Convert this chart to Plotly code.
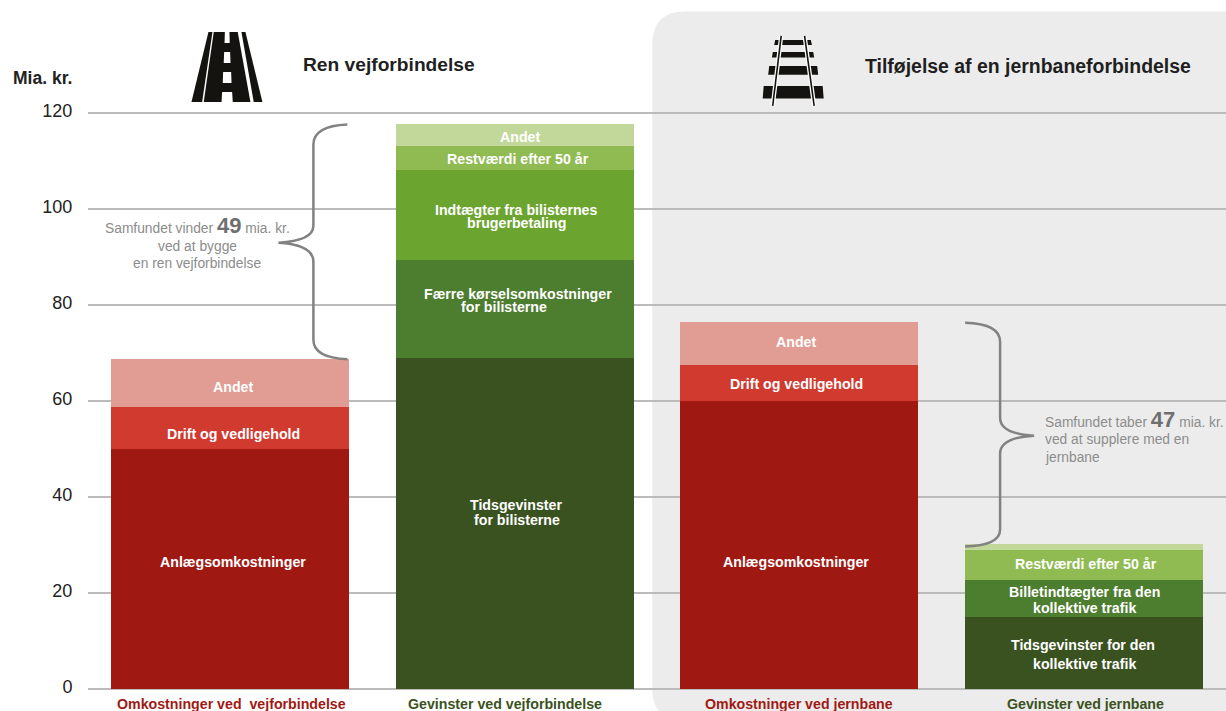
import plotly.graph_objects as go

# Bars, left to right
bars = ["Omkostninger ved  vejforbindelse", "Gevinster ved vejforbindelse",
        "Omkostninger ved jernbane", "Gevinster ved jernbane"]
bar_label_colors = ["#9f1a14", "#3a5220", "#9f1a14", "#3a5220"]

# Values in mia. kr. per stack segment
anlaeg = [50, None, 60, None]
drift = [8.8, None, 7.5, None]
andet_omk = [10, None, 9, None]
tid = [None, 69, None, 14.9]
koersel_billet = [None, 20.4, None, 7.9]
brugerbetaling = [None, 18.7, None, None]
restvaerdi = [None, 5, None, 6.2]
andet_gev = [None, 4.6, None, 1.3]

y_ticks = [0, 20, 40, 60, 80, 100, 120]

W, H = 1226, 711
LEFT, TOP, BOTTOM = 87.5, 111.1, 21.5
PLOT_W = W - LEFT
PLOT_H = H - TOP - BOTTOM


# the artwork was measured in pixels, so convert to paper coordinates
def px(x):
    return (x - LEFT) / PLOT_W


def py(y):
    return (H - BOTTOM - y) / PLOT_H


def path(points):
    return "M" + " L".join(f"{px(x):.5f},{py(y):.5f}" for x, y in points) + " Z"


fig = go.Figure()

segments = [
    ("Anlægsomkostninger", anlaeg, "#9f1912"),
    ("Drift og vedligehold", drift, "#d03a2f"),
    ("Andet", andet_omk, "#e19c93"),
    ("Tidsgevinster", tid, "#3a5220"),
    ("Kørsel / billetter", koersel_billet, "#4d7d2e"),
    ("Brugerbetaling", brugerbetaling, "#6ba52f"),
    ("Restværdi efter 50 år", restvaerdi, "#90bb52"),
    ("Andet", andet_gev, "#c2d89a"),
]
for name, values, color in segments:
    fig.add_trace(go.Bar(x=bars, y=values, name=name, marker=dict(color=color, line_width=0)))

fig.update_layout(
    width=W, height=H,
    margin=dict(l=LEFT, r=0, t=TOP, b=BOTTOM, pad=0),
    barmode="stack",
    bargap=0.164,
    showlegend=False,
    paper_bgcolor="white",
    plot_bgcolor="rgba(0,0,0,0)",
    font=dict(family="Liberation Sans", color="#222222"),
    xaxis=dict(categoryorder="array", categoryarray=bars, showticklabels=False,
               showgrid=False, zeroline=False, showline=False, ticks=""),
    # plotly drops gridlines within 1px of the range ends, so leave room above 120
    yaxis=dict(range=[0, 120.4], tickvals=y_ticks, showgrid=True, gridcolor="#bbbbbb", gridwidth=1.5,
               zeroline=True, zerolinecolor="#bbbbbb", zerolinewidth=1.5,
               ticks="outside", ticklen=11, tickcolor="rgba(0,0,0,0)",
               tickfont=dict(size=18, color="#222222"), ticklabelshift=-2),
)

shapes = []


def add_shape(d, fill="#14130f", line=None, width=0):
    shapes.append(dict(type="path", path=d, xref="paper", yref="paper", fillcolor=fill,
                       line=dict(color=line or "rgba(0,0,0,0)", width=width), layer="above"))


# grey panel behind the railway half, below the gridlines
r = 33
x0, x1, y0, y1 = 652, 1255, 11.5, 722
panel = (f"M{px(x0)},{py(y0 + r)} Q{px(x0)},{py(y0)} {px(x0 + r)},{py(y0)} "
         f"L{px(x1 - r)},{py(y0)} Q{px(x1)},{py(y0)} {px(x1)},{py(y0 + r)} "
         f"L{px(x1)},{py(y1 - r)} Q{px(x1)},{py(y1)} {px(x1 - r)},{py(y1)} "
         f"L{px(x0 + r)},{py(y1)} Q{px(x0)},{py(y1)} {px(x0)},{py(y1 - r)} Z")
shapes.append(dict(type="path", path=panel, xref="paper", yref="paper", fillcolor="#ececec",
                   line=dict(width=0), layer="below"))

# road icon
add_shape(path([(191, 102), (201.7, 102), (212, 32), (208, 32)]))
add_shape(path([(203.3, 102), (250, 102), (237.3, 32), (213.3, 32)]))
add_shape(path([(253.3, 102), (262, 102), (245, 32), (241, 32)]))
for top, bottom, half_top, half_bottom in [(32, 43, 2.3, 2.6), (52, 63, 3, 3.4), (72, 83, 4, 4.4), (92, 102, 5, 5.6)]:
    add_shape(path([(226.7 - half_bottom, bottom), (226.7 + half_bottom, bottom),
                    (226.7 + half_top, top), (226.7 - half_top, top)]), fill="white")

# railway icon: sleepers, then rails (thin black with white either side)
for top, bottom, left, right in [(40, 45, 774, 811.7), (52, 57.5, 771.7, 814),
                                 (66, 74.7, 768, 818), (86, 98.5, 762.5, 823.5)]:
    add_shape(path([(left, bottom), (right, bottom), (right - 1, top), (left + 1, top)]))
for top_x, bottom_x in [(781, 772.5), (804.4, 814)]:
    add_shape(f"M{px(top_x)},{py(36)} L{px(bottom_x)},{py(106)}", fill="rgba(0,0,0,0)", line="white", width=4.2)
    add_shape(f"M{px(top_x)},{py(36)} L{px(bottom_x)},{py(106)}", fill="rgba(0,0,0,0)", line="#14130f", width=1.6)


# curly braces
def brace_path(start, segs):
    d = f"M{px(start[0])},{py(start[1])}"
    for seg in segs:
        if len(seg) == 1:
            d += f" L{px(seg[0][0])},{py(seg[0][1])}"
        else:
            d += " Q" + " ".join(f"{px(x)},{py(y)}" for x, y in seg)
    return d


brace_left = brace_path((347, 124.7), [
    [(313, 126), (313, 145)], [(313, 226)], [(313, 241), (278, 243)],
    [(313, 245), (313, 262)], [(313, 340)], [(313, 358), (347, 359.5)]])
brace_right = brace_path((965, 323), [
    [(1000, 324), (1000, 342)], [(1000, 418)], [(1000, 434), (1034, 436)],
    [(1000, 438), (1000, 454)], [(1000, 530)], [(1000, 546), (965, 547)]])
for d in (brace_left, brace_right):
    add_shape(d, fill="rgba(0,0,0,0)", line="#828282", width=2.5)

fig.update_layout(shapes=shapes)


def note(text, x, y, size=14.2, color="white", anchor="center", bold=True):
    t = f"<b>{text}</b>" if bold else text
    fig.add_annotation(text=t, x=px(x), y=py(y), xref="paper", yref="paper", showarrow=False,
                       xanchor=anchor, yanchor="middle", font=dict(size=size, color=color), align="center")


# headings
note("Mia. kr.", 10, 78, size=17.5, color="#222222", anchor="left")
note("Ren vejforbindelse", 301, 65, size=19.2, color="#1f1f1f", anchor="left")
note("Tilføjelse af en jernbaneforbindelse", 863, 66, size=19.45, color="#1f1f1f", anchor="left")

# segment labels
note("Anlægsomkostninger", 233, 562)
note("Drift og vedligehold", 233, 434)
note("Andet", 233, 387)
note("Tidsgevinster", 516, 505)
note("for bilisterne", 517, 520)
note("Færre kørselsomkostninger", 518, 294)
note("for bilisterne", 504, 307)
note("Indtægter fra bilisternes", 516, 210)
note("brugerbetaling", 516, 223)
note("Restværdi efter 50 år", 518, 159)
note("Andet", 520, 137)
note("Anlægsomkostninger", 796, 562)
note("Drift og vedligehold", 796, 384)
note("Andet", 796, 342)
note("Restværdi efter 50 år", 1086, 564)
note("Billetindtægter fra den", 1084, 592)
note("kollektive trafik", 1084, 608)
note("Tidsgevinster for den", 1083, 645)
note("kollektive trafik", 1084, 664)

# brace captions
GREY = "#8c8c8c"
CAPTION = 13.8
BIG = "<b><span style='font-size:22px;color:#6f6f6f'>{}</span></b>"
note(f"Samfundet vinder {BIG.format(49)} mia. kr.", 197, 226, size=CAPTION, color=GREY, bold=False)
note("ved at bygge", 197, 247, size=CAPTION, color=GREY, bold=False)
note("en ren vejforbindelse", 197, 264, size=CAPTION, color=GREY, bold=False)
note(f"Samfundet taber {BIG.format(47)} mia. kr.", 1043, 420, size=CAPTION, color=GREY, anchor="left", bold=False)
note("ved at supplere med en", 1043, 440, size=CAPTION, color=GREY, anchor="left", bold=False)
note("jernbane", 1043, 458, size=CAPTION, color=GREY, anchor="left", bold=False)

# labels under the bars
for name, color, shift in zip(bars, bar_label_colors, [1, -10, 0, 2]):
    fig.add_annotation(text=f"<b>{name}</b>", x=name, y=py(705), xref="x", yref="paper", showarrow=False,
                       xshift=shift, yanchor="middle", font=dict(size=14.2, color=color))

fig.write_html("out.html", config=dict(displayModeBar=False),
               post_script="document.body.style.margin='0';document.body.style.overflow='hidden';")
